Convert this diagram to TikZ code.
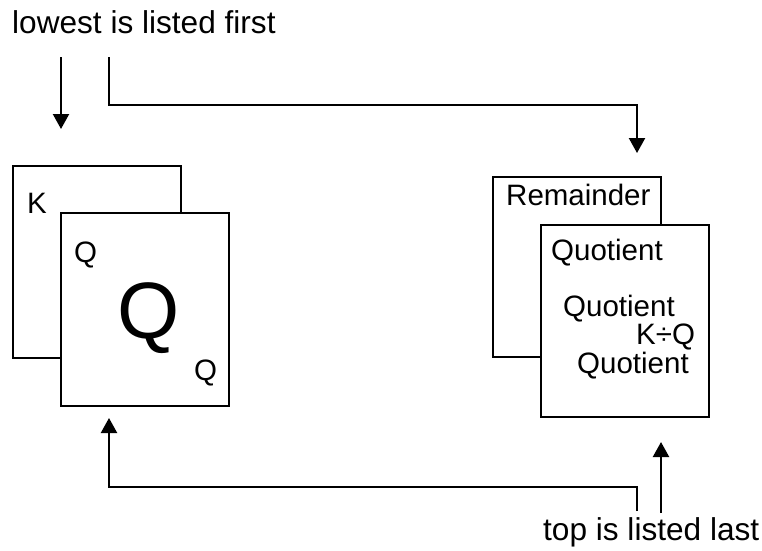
\documentclass[tikz,border=0pt]{standalone}
\usepackage{fontspec}
\setmainfont{Liberation Sans}
\usetikzlibrary{arrows.meta}
\begin{document}
\begin{tikzpicture}[x=1pt,y=-1pt,
  card/.style={draw=black,line width=2.2pt,fill=white},
  conn/.style={line width=2.2pt},
  arr/.style={conn,-{Triangle[length=15pt,width=16pt]}},
  lbl/.style={inner sep=0pt,anchor=base west,font=\fontsize{31.6}{38}\selectfont},
  ctext/.style={inner sep=0pt,anchor=base west,font=\fontsize{29.5}{34}\selectfont},
  bigq/.style={inner sep=0pt,anchor=base west,font=\fontsize{80}{90}\selectfont}]
\useasboundingbox (0,0) rectangle (762,550);
% labels
\node[lbl] (low) at (12,33) {lowest is listed first};
\node[lbl] (top) at (543,540) {top is listed last};
% left cards
\draw[card] (13,166) rectangle (181,358);
\draw[card] (61,213) rectangle (229,406);
\node[ctext] (k) at (27,213) {K};
\node[ctext] (q1) at (74,262) {Q};
\node[bigq] (q2) at (117,338) {Q};
\node[ctext] (q3) at (194,380) {Q};
% right cards
\draw[card] (493,177) rectangle (661,357);
\draw[card] (541,225) rectangle (709,417);
\node[ctext] (rem) at (506,205) {Remainder};
\node[ctext] (quo1) at (551,260) {Quotient};
\node[ctext] (quo2) at (563,316) {Quotient};
\node[ctext] (kq) at (636,344) {K÷Q};
\node[ctext] (quo3) at (577,373) {Quotient};
% connectors
\coordinate (a1s) at (61,57);
\coordinate (a1e) at (61,129);
\draw[arr] (a1s) -- (a1e);
\coordinate (a2s) at (109,57);
\coordinate (a2m) at (109,105);
\coordinate (a2n) at (637,105);
\coordinate (a2e) at (637,153);
\draw[arr] (a2s) -- (a2m) -- (a2n) -- (a2e);
\coordinate (b1s) at (637,511);
\coordinate (b1m) at (637,487);
\coordinate (b1n) at (109,487);
\coordinate (b1e) at (109,418);
\draw[arr] (b1s) -- (b1m) -- (b1n) -- (b1e);
\coordinate (b2s) at (661,513);
\coordinate (b2e) at (661,442);
\draw[arr] (b2s) -- (b2e);
\end{tikzpicture}
\end{document}
